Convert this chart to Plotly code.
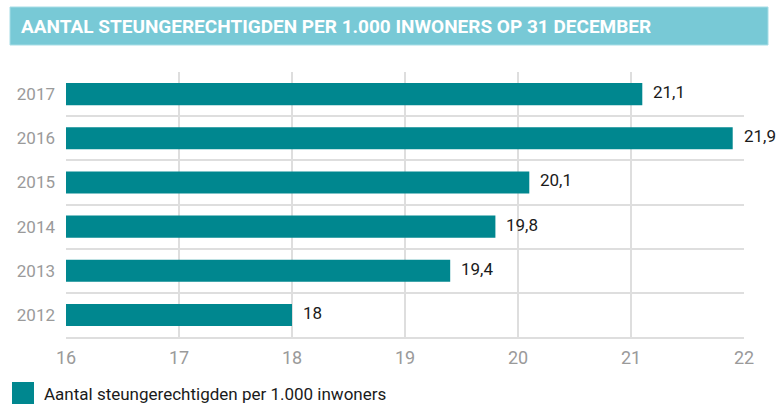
import plotly.graph_objects as go

years = ["2012", "2013", "2014", "2015", "2016", "2017"]
values = [18.0, 19.4, 19.8, 20.1, 21.9, 21.1]
value_labels = ["18", "19,4", "19,8", "20,1", "21,9", "21,1"]
x_ticks = [16, 17, 18, 19, 20, 21, 22]
title_text = "AANTAL STEUNGERECHTIGDEN PER 1.000 INWONERS OP 31 DECEMBER"
legend_text = "Aantal steungerechtigden per 1.000 inwoners"

FONT = "Roboto"
BAR = "#00878f"
W, H = 777, 410
# plot area in reference pixels: x 66..744, y 72..337
PL, PR, PT, PB = 66, 744, 72, 337
L, T = PL, PT
R, B = W - PR, H - PB
pw, ph = PR - PL, PB - PT

def px(xp):
    return (xp - PL) / pw

def py(yp):
    return (PB - yp) / ph

fig = go.Figure()
fig.add_trace(go.Bar(
    x=[v - 16 for v in values], base=16, y=years, orientation="h",
    marker=dict(color=BAR, line=dict(width=0)), width=0.5,
    showlegend=False, hoverinfo="skip",
))

for i, (v, lab) in enumerate(zip(values, value_labels)):
    fig.add_annotation(x=v, y=i, text=lab, showarrow=False, xanchor="left",
                       yanchor="middle", xshift=9, yshift=2,
                       font=dict(family=FONT, size=17, color="#1a1a1a"))

# title banner
fig.add_shape(type="rect", xref="paper", yref="paper",
              x0=px(10), x1=px(768), y0=py(45), y1=py(7),
              fillcolor="#78c9d6", line=dict(color="#a6dde6", width=1), layer="below")
fig.add_annotation(xref="paper", yref="paper", x=px(19), y=py(26), text="<b>" + title_text + "</b>",
                   showarrow=False, xanchor="left", yanchor="middle",
                   font=dict(family=FONT, size=19, color="white"))

# legend
fig.add_shape(type="rect", xref="paper", yref="paper",
              x0=px(12), x1=px(34), y0=py(404), y1=py(382),
              fillcolor=BAR, line=dict(width=0))
fig.add_annotation(xref="paper", yref="paper", x=px(42), y=py(394), text=legend_text,
                   showarrow=False, xanchor="left", yanchor="middle",
                   font=dict(family=FONT, size=17, color="#1a1a1a"))

fig.update_layout(
    width=W, height=H,
    margin=dict(l=L, r=R, t=T, b=B, pad=0),
    paper_bgcolor="white", plot_bgcolor="white",
    font=dict(family=FONT),
    bargap=0.5,
    xaxis=dict(range=[16, 22], tickvals=x_ticks, ticktext=[str(t) for t in x_ticks],
               showgrid=True, gridcolor="#dedede", gridwidth=1.5,
               showline=True, linecolor="#dedede", linewidth=1.5,
               zeroline=False, ticks="", ticklabelstandoff=4,
               tickfont=dict(family=FONT, size=18, color="#9a9a9a"), fixedrange=True),
    yaxis=dict(type="category", categoryorder="array", categoryarray=years, tickson="boundaries",
               range=[-0.5, len(years) - 0.5],
               showgrid=True, gridcolor="#dedede", gridwidth=1.5,
               showline=False, ticks="", ticklabelstandoff=10,
               tickfont=dict(family=FONT, size=17, color="#9a9a9a"), fixedrange=True),
)

fig.write_html("out.html", config={"displayModeBar": False},
               post_script="document.body.style.margin='0';document.body.style.overflow='hidden';")
